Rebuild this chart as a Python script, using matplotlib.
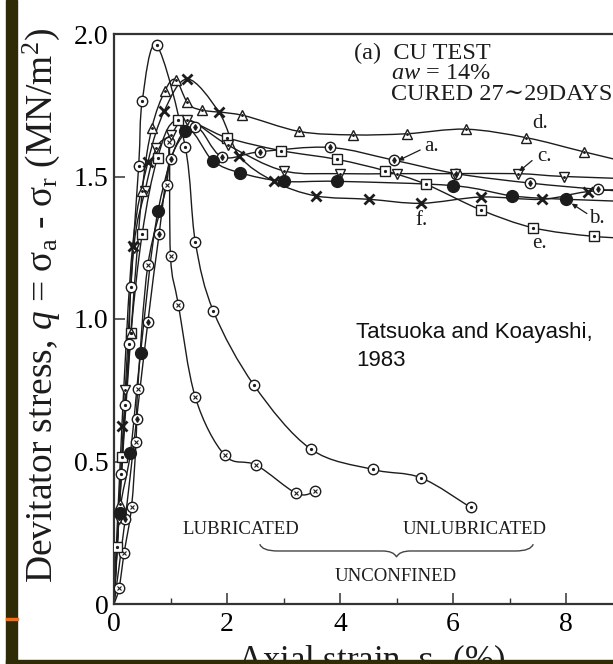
import numpy as np
import matplotlib
matplotlib.use("Agg")
from matplotlib import pyplot as plt
from matplotlib.path import Path
from matplotlib.patches import PathPatch, Rectangle

plt.rcParams['font.family'] = ['Liberation Serif', 'DejaVu Serif']
plt.rcParams['mathtext.fontset'] = 'custom'
plt.rcParams['mathtext.rm'] = 'Liberation Serif'
plt.rcParams['mathtext.it'] = 'Liberation Serif:italic'

# curves (axial strain %, deviator stress MN/m2)
a_x = [0, 0.2, 0.4, 0.6, 0.8, 1.0, 1.44, 1.91, 2.59, 3.82, 4.96, 6.06, 7.36, 8.56, 9.5]
a_y = [0, 0.30, 0.65, 0.99, 1.30, 1.56, 1.673, 1.569, 1.587, 1.602, 1.557, 1.51, 1.477, 1.455, 1.44]

b_x = [0, 0.1, 0.29, 0.47, 0.78, 1.25, 1.75, 2.23, 3.0, 3.95, 6.0, 7.05, 8.0, 9.5]
b_y = [0, 0.32, 0.53, 0.88, 1.38, 1.66, 1.555, 1.513, 1.483, 1.483, 1.468, 1.432, 1.42, 1.41]

c_x = [0, 0.08, 0.2, 0.35, 0.55, 0.75, 1.0, 1.3, 2.02, 3.0, 4.0, 5.0, 6.03, 7.15, 7.97, 9.5]
c_y = [0, 0.30, 0.75, 1.25, 1.45, 1.60, 1.645, 1.70, 1.61, 1.52, 1.51, 1.51, 1.51, 1.51, 1.50, 1.49]

d_x = [0, 0.1, 0.3, 0.5, 0.67, 0.9, 1.09, 1.3, 1.55, 2.27, 3.28, 4.23, 5.18, 6.23, 7.3, 8.31, 9.5]
d_y = [0, 0.35, 0.95, 1.45, 1.67, 1.80, 1.84, 1.76, 1.733, 1.715, 1.658, 1.646, 1.65, 1.666, 1.636, 1.587, 1.53]

e_x = [0, 0.06, 0.14, 0.3, 0.5, 0.77, 1.13, 2.0, 2.95, 3.95, 4.8, 5.53, 6.49, 7.42, 8.49, 9.5]
e_y = [0, 0.20, 0.517, 0.95, 1.30, 1.565, 1.70, 1.636, 1.591, 1.56, 1.52, 1.472, 1.383, 1.32, 1.29, 1.28]

f_x = [0, 0.14, 0.33, 0.6, 0.89, 1.3, 1.86, 2.22, 2.83, 3.57, 4.52, 5.44, 6.5, 7.57, 8.39, 9.5]
f_y = [0, 0.625, 1.257, 1.55, 1.73, 1.842, 1.725, 1.572, 1.483, 1.432, 1.42, 1.406, 1.428, 1.42, 1.447, 1.46]

lub_x = [0, 0.09, 0.18, 0.31, 0.39, 0.42, 0.6, 0.93, 0.98, 1.0, 1.14, 1.44, 1.96, 2.52, 3.23, 3.56]
lub_y = [0, 0.056, 0.18, 0.34, 0.57, 0.755, 1.19, 1.47, 1.62, 1.22, 1.05, 0.725, 0.522, 0.487, 0.388, 0.395]

unl_x = [0, 0.13, 0.2, 0.265, 0.295, 0.437, 0.50, 0.755, 1.26, 1.44, 1.76, 2.48, 3.48, 4.58, 5.43, 6.31]
unl_y = [0.05, 0.456, 0.70, 0.911, 1.113, 1.537, 1.765, 1.96, 1.605, 1.27, 1.027, 0.767, 0.544, 0.472, 0.443, 0.339]

xticks = [0, 2, 4, 6, 8]
yticks = [0, 0.5, 1.0, 1.5, 2.0]
yticklabels = ['0', '0.5', '1.0', '1.5', '2.0']

INK = '#1c1c1c'


def smooth_path(xs, ys, k=1 / 6):
    P = np.column_stack([xs, ys]).astype(float)
    n = len(P)
    verts = [P[0]]
    codes = [Path.MOVETO]
    for i in range(n - 1):
        p0 = P[i - 1] if i > 0 else P[i]
        p1, p2 = P[i], P[i + 1]
        p3 = P[i + 2] if i + 2 < n else P[i + 1]
        verts += [p1 + (p2 - p0) * k, p2 - (p3 - p1) * k, p2]
        codes += [Path.CURVE4] * 3
    return Path(verts, codes)


def curve(xs, ys, marker, inner=None, ms=7, inner_ms=2.5, mfc='white', mew=1.0):
    ax.add_patch(PathPatch(smooth_path(xs, ys), fill=False, ec=INK, lw=1.0, zorder=2))
    ax.plot(xs[1:], ys[1:], ls='none', marker=marker, ms=ms, mfc=mfc, mec=INK, mew=mew, zorder=3)
    if inner:
        ax.plot(xs[1:], ys[1:], ls='none', marker=inner, ms=inner_ms, mfc=INK, mec=INK,
                mew=0.8, zorder=4)


fig = plt.figure(figsize=(6.13, 6.64), dpi=100)
ax = fig.add_axes([114 / 613, 60 / 664, 9 * 56.5 / 613, 570 / 664])
ax.set_xlim(0, 9)
ax.set_ylim(0, 2.0)

curve(unl_x, unl_y, 'o', '.', ms=7.5, inner_ms=3)
curve(lub_x, lub_y, 'o', 'x', ms=7.5, inner_ms=3.5)
curve(a_x, a_y, 'o', 'd', ms=7.5, inner_ms=3)
curve(e_x, e_y, 's', '.', ms=7, inner_ms=3)
curve(c_x, c_y, 'v', '.', ms=7.5, inner_ms=2.5)
curve(d_x, d_y, '^', '.', ms=7.5, inner_ms=2.5)
curve(b_x, b_y, 'o', ms=8.5, mfc=INK)
curve(f_x, f_y, 'x', ms=7.5, mew=2.0)

for s in ['left', 'bottom', 'top']:
    ax.spines[s].set_linewidth(1.6)
    ax.spines[s].set_color('#333333')
ax.spines['right'].set_visible(False)

ax.set_xticks(xticks)
ax.set_xticklabels([str(t) for t in xticks])
ax.set_xticks([1, 3, 5, 7], minor=True)
ax.set_yticks(yticks)
ax.set_yticklabels(yticklabels)
ax.tick_params(direction='in', length=8, width=1.1, labelsize=20, color='#333333')
ax.tick_params(axis='x', pad=6)
ax.tick_params(axis='y', pad=4, left=True)
ax.tick_params(which='minor', direction='in', length=4, width=1.0, color='#333333')
ax.get_yticklines()[0].set_visible(False)

# header text
ax.text(4.25, 1.933, '(a)  CU TEST', fontsize=17.5, va='center', color=INK)
ax.text(4.90, 1.86, r'$aw$ = 14%', fontsize=17.5, va='center', color=INK)
ax.text(4.90, 1.786, 'CURED 27\u223c29DAYS', fontsize=17.5, va='center', color=INK)

# curve labels
lab = dict(fontsize=15, va='center', ha='center', color=INK)
ax.text(7.55, 1.685, 'd.', **lab)
ax.text(5.62, 1.607, 'a.', **lab)
ax.text(7.62, 1.57, 'c.', **lab)
ax.text(8.55, 1.354, 'b.', **lab)
ax.text(5.44, 1.347, 'f.', **lab)
ax.text(7.53, 1.265, 'e.', **lab)
arr = dict(arrowstyle='-|>', lw=0.9, color=INK, mutation_scale=7, shrinkA=0, shrinkB=0)
ax.annotate('', xy=(5.03, 1.556), xytext=(5.42, 1.593), arrowprops=arr)
ax.annotate('', xy=(7.17, 1.518), xytext=(7.40, 1.556), arrowprops=arr)
ax.annotate('', xy=(8.10, 1.405), xytext=(8.37, 1.370), arrowprops=arr)

ax.text(4.28, 0.951, 'Tatsuoka and Koayashi,', fontsize=16, va='center',
        family=['Liberation Sans', 'DejaVu Sans'], color='#111111')
ax.text(4.28, 0.856, '1983', fontsize=16, va='center',
        family=['Liberation Sans', 'DejaVu Sans'], color='#111111')

ax.text(2.24, 0.263, 'LUBRICATED', fontsize=13.5, va='center', ha='center', color=INK)
ax.text(6.39, 0.263, 'UNLUBRICATED', fontsize=13.5, va='center', ha='center', color=INK)
ax.text(4.98, 0.097, 'UNCONFINED', fontsize=13.5, va='center', ha='center', color=INK)

brace = Path([(2.58, 0.21), (2.62, 0.186), (2.9, 0.186), (4.75, 0.186), (4.95, 0.186), (5.0, 0.165),
              (5.05, 0.186), (5.25, 0.186), (7.1, 0.186), (7.38, 0.186), (7.42, 0.21)],
             [Path.MOVETO, Path.CURVE3, Path.CURVE3, Path.LINETO, Path.CURVE3, Path.CURVE3,
              Path.CURVE3, Path.CURVE3, Path.LINETO, Path.CURVE3, Path.CURVE3])
ax.add_patch(PathPatch(brace, fill=False, ec='#444444', lw=1.0))

fig.text(41 / 613, 1 - 305 / 664,
         r'Devitator stress, $q$ = σ$_{\rm a}$ - σ$_{\rm r}$ (MN/m$^2$)',
         rotation=90, fontsize=27, ha='center', va='center', color=INK)
fig.text(371 / 613, 1 - 643 / 664, r'Axial strain, ε$_{\rm a}$ (%)', fontsize=25,
         ha='center', va='top', color=INK)

# slide frame pieces
fig.add_artist(Rectangle((6 / 613, 0), 11 / 613, 1, transform=fig.transFigure,
                         color='#2f2b06', zorder=20))
fig.add_artist(Rectangle((6 / 613, 0), 607 / 613, 4 / 664, transform=fig.transFigure,
                         color='#2f2b06', zorder=20))
fig.add_artist(Rectangle((6 / 613, 1 - 620 / 664), 12 / 613, 2.5 / 664,
                         transform=fig.transFigure, color='#ff6a10', zorder=21))

fig.savefig('out.png', dpi=100)
